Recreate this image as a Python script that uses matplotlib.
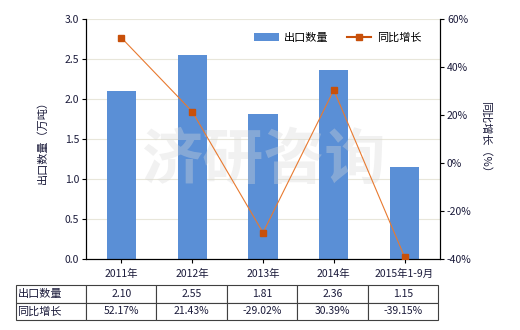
import matplotlib
matplotlib.use("Agg")
import matplotlib.pyplot as plt
import numpy as np
from matplotlib.lines import Line2D

plt.rcParams['font.family'] = ['Noto Sans CJK SC', 'DejaVu Sans']

categories = ["2011年", "2012年", "2013年", "2014年", "2015年1-9月"]
export_qty = [2.10, 2.55, 1.81, 2.36, 1.15]
growth = [52.17, 21.43, -29.02, 30.39, -39.15]
qty_labels = ["2.10", "2.55", "1.81", "2.36", "1.15"]
growth_labels = ["52.17%", "21.43%", "-29.02%", "30.39%", "-39.15%"]

W, H = 520, 330
fig = plt.figure(figsize=(W / 100, H / 100), dpi=100)
L, R, T, B = 86, 440, 19, 259
ax = fig.add_axes([L / W, 1 - B / H, (R - L) / W, (B - T) / H])
ax2 = ax.twinx()

x = np.arange(len(categories))
tc = '#1a1a3a'
bars = ax.bar(x, export_qty, width=0.41, color='#5a8fd6', label='出口数量', zorder=2)
ax.set_xlim(-0.5, len(categories) - 0.5)
ax.set_ylim(0, 3.0)
ax.set_yticks(np.arange(0, 3.01, 0.5))
ax.set_yticklabels([f"{v:.1f}" for v in np.arange(0, 3.01, 0.5)], fontsize=7.5, color=tc)
ax.grid(axis='y', color='#e8e6da', lw=0.8, zorder=0)
ax.set_axisbelow(True)
ax.set_xticks(x)
ax.set_xticklabels(categories, fontsize=7.5, color=tc)
ax.tick_params(axis='x', length=3, pad=4)
ax.tick_params(axis='y', length=3, pad=2)
for s in ['top']:
    ax.spines[s].set_visible(False)
    ax2.spines[s].set_visible(False)
ax.set_ylabel('出口数量（万吨）', fontsize=8, color=tc, labelpad=12)

ln, = ax2.plot(x, growth, color='#e87a30', lw=0.8, marker='s', markersize=4,
               markerfacecolor='#c8500a', markeredgecolor='#c8500a', label='同比增长', zorder=3)
ax2.set_ylim(-40, 60)
ax2.set_yticks(np.arange(-40, 61, 20))
ax2.set_yticklabels([f"{int(v)}%" for v in np.arange(-40, 61, 20)], fontsize=7.5, color=tc)
ax2.tick_params(axis='y', length=3, pad=2)
ax2.set_ylabel('同比增长（%）', fontsize=8, color=tc, rotation=270, labelpad=14)

# watermark
ax.text(0.5, 0.41, '济研咨询', transform=ax.transAxes, fontsize=44, color='#d8d8d8',
        alpha=0.35, ha='center', va='center', fontweight='bold', zorder=4)

h2 = Line2D([], [], color='#c8500a', lw=1.5, marker='s', markersize=4)
ax.legend([bars, h2], ['出口数量', '同比增长'], loc='upper right', ncol=2, frameon=False,
          fontsize=8, bbox_to_anchor=(0.975, 0.985), handlelength=2.2, columnspacing=1.6,
          handletextpad=0.5)

# table
cell = [["出口数量"] + qty_labels, ["同比增长"] + growth_labels]
tl, tr, tt, tb = 16, 438, 285, 320
tbl = ax.table(cellText=cell, colWidths=[70] + [70.4] * 5,
               bbox=[(tl - L) / (R - L), (B - tb) / (B - T), (tr - tl) / (R - L), (tb - tt) / (B - T)],
               cellLoc='center')
tbl.auto_set_font_size(False)
for (r, c), cl in tbl.get_celld().items():
    cl.set_fontsize(7.5)
    cl.set_edgecolor('#404040')
    cl.set_linewidth(0.8)
    cl.get_text().set_color(tc)
    if c == 0:
        cl.set_fontsize(8)
        cl.get_text().set_ha('left')
        cl._loc = 'left'
        cl.PAD = 0.02

fig.savefig('out.png', dpi=100)
